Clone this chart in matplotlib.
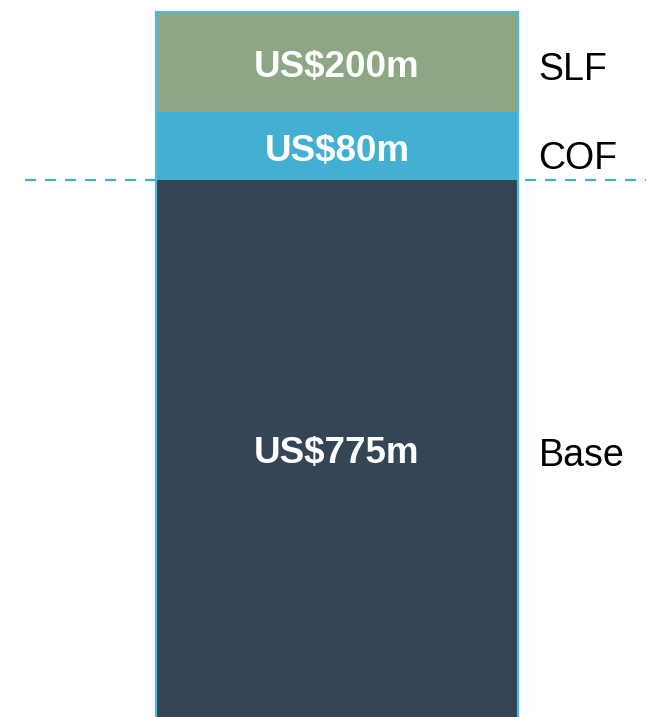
import numpy as np
from matplotlib import pyplot as plt

# stacked funding layers, bottom to top
names  = ['Base', 'COF', 'SLF']
values = [775, 80, 200]          # US$m, shown as labels
shown  = [560, 68, 100]          # drawn heights (diagram is not to scale)
colors = ['#344556', '#42AFD3', '#8DA683']

plt.rcParams['font.family'] = ['Liberation Sans', 'DejaVu Sans']

fig = plt.figure(figsize=(6.46, 7.17), dpi=100)
ax = fig.add_axes([0, 0, 1, 1])

bottoms = np.concatenate([[0], np.cumsum(shown)[:-1]])
ax.bar(0, shown, bottom=bottoms, width=1, color=colors, edgecolor='none', zorder=2)
# outline round whole column
ax.bar(0, sum(shown), width=1, fill=False, edgecolor='#4FB8DE', lw=1.6, zorder=3)

ylo, yhi = 23, 740
ax.set_xlim(-0.931, 0.854)
ax.set_ylim(ylo, yhi)

ax.axhline(shown[0], xmin=25/646, xmax=1, color='#42AFD3', lw=1.6,
           ls=(0, (5, 4)), zorder=1)

for i in range(3):
   top = bottoms[i] + shown[i]
   mid = (max(bottoms[i], ylo) + top) / 2
   ax.text(0, mid - 5, 'US$%dm' % values[i], color='white', fontsize=26.5,
           fontweight='bold', ha='center', va='center', zorder=4)
   off = -13 if names[i] == 'COF' else -8
   ax.text(0.557, mid + off, names[i], color='black', fontsize=27,
           ha='left', va='center')

ax.axis('off')
plt.savefig('out.png', dpi=100)
